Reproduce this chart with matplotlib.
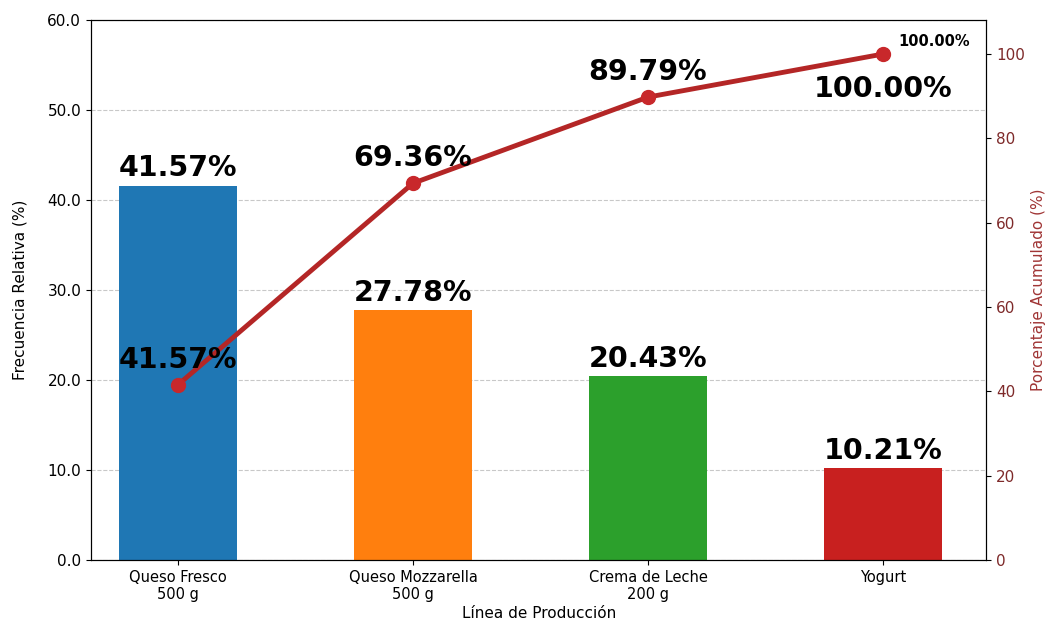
import numpy as np
import matplotlib
matplotlib.use('Agg')
import matplotlib.pyplot as plt

# data
categories = ['Queso Fresco\n500 g', 'Queso Mozzarella\n500 g', 'Crema de Leche\n200 g', 'Yogurt']
rel_freq = [41.57, 27.78, 20.43, 10.21]
cum_pct = [41.57, 69.36, 89.79, 100.00]
bar_colors = ['#1f77b4', '#ff7f0e', '#2ca02c', '#c8201f']
left_ticks = [0, 10, 20, 30, 40, 50, 60]
# the right axis of the reference reads "60" twice
right_tick_vals = [0, 20, 40, 60, 60.001, 80, 100]
right_tick_labels = ['0', '20', '40', '60', '60', '80', '100']
right_tick_pos = [0, 20, 40, 60, 80, 100, 120]

line_col = '#b42626'
right_col = '#7e2a2a'

# piecewise scale so that the doubled "60" tick sits where it does in the reference
knot_v = np.array([-100] + right_tick_vals + [140])
knot_p = np.array([-100] + right_tick_pos + [160])


def fwd(v):
    return np.interp(v, knot_v, knot_p)


def inv(p):
    return np.interp(p, knot_p, knot_v)


fig = plt.figure(figsize=(10.45, 6.21), dpi=100)
ax = fig.add_axes([0.087, 0.098, 0.857, 0.870])
x = np.arange(len(categories))

ax.bar(x, rel_freq, width=0.5, color=bar_colors, zorder=2)
ax.set_xlim(-0.37, 3.44)
ax.set_ylim(0, 60)
ax.set_yticks(left_ticks)
ax.set_yticklabels([f'{t:.1f}' for t in left_ticks])
ax.grid(axis='y', linestyle='--', color='#bbbbbb', alpha=0.8, zorder=0)
ax.set_axisbelow(True)
ax.set_xticks(x)
ax.set_xticklabels(categories, fontsize=10.5)
ax.tick_params(axis='y', labelsize=11)
ax.set_xlabel('Línea de Producción', fontsize=11, labelpad=3)
ax.set_ylabel('Frecuencia Relativa (%)', fontsize=11, labelpad=14)

for xi, v in zip(x, rel_freq):
    ax.annotate(f'{v:.2f}%', (xi, v), xytext=(0, 12.5), textcoords='offset points',
                ha='center', va='center', fontsize=20.5, fontweight='bold')

ax2 = ax.twinx()
ax2.set_yscale('function', functions=(fwd, inv))
ax2.plot(x, cum_pct, color=line_col, lw=3.5, marker='o', ms=10,
         markerfacecolor='#c8282b', markeredgecolor='#c8282b', zorder=3)
ax2.set_ylim(0, 108.1)
ax2.set_yticks(right_tick_vals)
ax2.set_yticklabels(right_tick_labels)
ax2.yaxis.set_minor_locator(matplotlib.ticker.NullLocator())
ax2.tick_params(axis='y', labelsize=11, labelcolor=right_col)
ax2.set_ylabel('Porcentaje Acumulado (%)', fontsize=11, color='#a03535')

for i, (xi, v) in enumerate(zip(x, cum_pct)):
    if i < len(cum_pct) - 1:
        ax2.annotate(f'{v:.2f}%', (xi, v), xytext=(0, 18), textcoords='offset points',
                     ha='center', va='center', fontsize=20.5, fontweight='bold')
    else:
        ax2.annotate(f'{v:.2f}%', (xi, v), xytext=(0, -25), textcoords='offset points',
                     ha='center', va='center', fontsize=20.5, fontweight='bold')
        ax2.annotate(f'{v:.2f}%', (xi, v), xytext=(37, 9), textcoords='offset points',
                     ha='center', va='center', fontsize=10.5, fontweight='bold')

fig.savefig('out.png', dpi=100)
plt.close()
